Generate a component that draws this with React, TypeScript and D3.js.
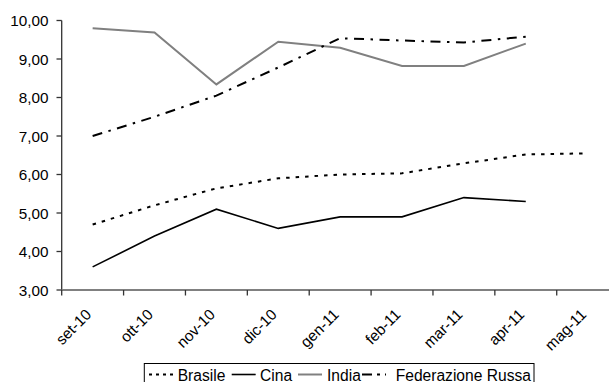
import React from "react";
import * as d3 from "d3";

const categories = ["set-10", "ott-10", "nov-10", "dic-10", "gen-11", "feb-11", "mar-11", "apr-11", "mag-11"];
const brasile = [4.7, 5.2, 5.64, 5.9, 6.0, 6.03, 6.29, 6.52, 6.55];
const cina = [3.6, 4.4, 5.1, 4.6, 4.9, 4.9, 5.4, 5.3, null];
const india = [9.8, 9.69, 8.34, 9.45, 9.29, 8.82, 8.82, 9.4, null];
const russia = [7.0, 7.5, 8.05, 8.78, 9.54, 9.48, 9.43, 9.58, null];
const yTicks = [3, 4, 5, 6, 7, 8, 9, 10];

const seriesNames = ["Brasile", "Cina", "India", "Federazione Russa"];

const W = 609;
const H = 382;
const FONT = "'Liberation Sans', Arial, sans-serif";

export default function App() {
  const x = d3.scaleBand<string>().domain(categories).range([61.7, 618.6]);
  const y = d3.scaleLinear().domain([3, 10]).range([290, 20.5]);
  const cx = (c: string) => (x(c) as number) + x.bandwidth() / 2;

  const line = d3
    .line<number | null>()
    .defined((d) => d !== null)
    .x((_, i) => cx(categories[i]))
    .y((d) => y(d as number));

  const styles = [
    { data: brasile, stroke: "#000", width: 2, dash: "3.5,6" },
    { data: cina, stroke: "#000", width: 1.6, dash: "" },
    { data: india, stroke: "#808080", width: 2, dash: "" },
    { data: russia, stroke: "#000", width: 2, dash: "10,6.5,2.5,6.5" },
  ];

  const legendItems = [
    { sx: 149, tx: 177.7 },
    { sx: 231.7, tx: 260 },
    { sx: 298, tx: 327 },
    { sx: 362, tx: 395.7 },
  ];
  const legendDash = ["3,4", "", "", "10,5,3,5"];

  const bound = [...categories.map((c) => x(c) as number), 618.6];

  return (
    <svg width={W} height={H} style={{ position: "absolute", left: 0, top: 0 }} fontFamily={FONT}>
      <rect width={W} height={H} fill="#fff" />
      {/* Y axis */}
      <line x1={61.7} x2={61.7} y1={y(10)} y2={y(3)} stroke="#333" strokeWidth={1.3} />
      {yTicks.map((t) => (
        <g key={t}>
          <line x1={56.5} x2={61.7} y1={y(t)} y2={y(t)} stroke="#333" strokeWidth={1.3} />
          <text x={48.5} y={y(t)} dy="0.36em" textAnchor="end" fontSize={15.3} fill="#000">
            {d3.format(".2f")(t).replace(".", ",")}
          </text>
        </g>
      ))}
      {/* Lines */}
      {styles.map((s, i) => (
        <path
          key={i}
          d={line(s.data as (number | null)[]) || ""}
          fill="none"
          stroke={s.stroke}
          strokeWidth={s.width}
          strokeDasharray={s.dash || undefined}
        />
      ))}
      {/* X axis */}
      <line x1={61.7} x2={W} y1={y(3)} y2={y(3)} stroke="#808080" strokeWidth={2} />
      {bound.map((b, i) => (
        <line key={i} x1={b} x2={b} y1={y(3)} y2={y(3) + 5.5} stroke="#333" strokeWidth={1.3} />
      ))}
      {categories.map((c) => (
        <text
          key={c}
          transform={`translate(${cx(c) - 8},${308}) rotate(-45)`}
          textAnchor="end"
          dy="0.7em"
          fontSize={15.3}
          fill="#000"
        >
          {c}
        </text>
      ))}
      {/* Legend */}
      <rect x={144.3} y={363.5} width={389.7} height={30} fill="#fff" stroke="#000" strokeWidth={1} />
      {seriesNames.map((n, i) => (
        <g key={n}>
          <line
            x1={legendItems[i].sx}
            x2={legendItems[i].sx + 24}
            y1={374.5}
            y2={374.5}
            stroke={styles[i].stroke}
            strokeWidth={styles[i].width}
            strokeDasharray={legendDash[i] || undefined}
          />
          <text x={legendItems[i].tx} y={380.5} fontSize={15.6} fill="#000">
            {n}
          </text>
        </g>
      ))}
    </svg>
  );
}
